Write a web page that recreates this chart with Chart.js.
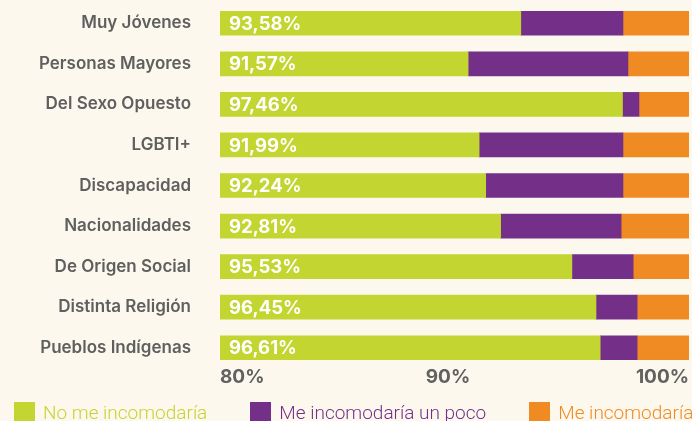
<!DOCTYPE html>
<html>
<head>
<meta charset="utf-8">
<script src="https://cdn.jsdelivr.net/npm/chart.js@4"></script>
<style>
  body { margin: 0; background: #fdf8ee; }
  #wrap { position: relative; width: 692px; height: 421px; overflow: hidden; }
  #leyenda { position: absolute; left: 14px; top: 402px; display: flex; gap: 43px;
    font-family: Roboto, sans-serif; font-weight: 300; font-size: 19px; line-height: 21px; white-space: nowrap; }
  #leyenda .item { display: flex; align-items: center; }
  #leyenda .caja { width: 21px; height: 21px; margin-right: 8px; }
</style>
</head>
<body>
<div id="wrap">
  <canvas id="myChart" width="692" height="421"></canvas>
  <div id="leyenda"></div>
</div>
<script>
const categorias = ['Muy Jóvenes', 'Personas Mayores', 'Del Sexo Opuesto', 'LGBTI+', 'Discapacidad',
  'Nacionalidades', 'De Origen Social', 'Distinta Religión', 'Pueblos Indígenas'];
const noMeIncomodaria = [93.58, 91.57, 97.46, 91.99, 92.24, 92.81, 95.53, 96.45, 96.61];
const meIncomodariaUnPoco = [3.90, 6.10, 0.63, 5.49, 5.24, 4.60, 2.34, 1.57, 1.41];
const meIncomodaria = [2.52, 2.33, 1.91, 2.52, 2.52, 2.59, 2.13, 1.98, 1.98];
const valoresTicks = [82.1, 90.8, 100];
const etiquetasTicks = ['80%', '90%', '100%'];

const VERDE = '#c2d530';
const MORADO = '#743089';
const NARANJA = '#f08b23';

// etiquetas blancas dentro de la barra verde
const etiquetasVerdes = {
  id: 'etiquetasVerdes',
  afterDatasetsDraw(chart) {
    const ctx = chart.ctx;
    const meta = chart.getDatasetMeta(0);
    ctx.save();
    ctx.fillStyle = '#ffffff';
    ctx.font = 'bold 18.5px Inter';
    ctx.textAlign = 'left';
    ctx.textBaseline = 'middle';
    meta.data.forEach(function (bar, i) {
      const txt = noMeIncomodaria[i].toFixed(2).replace('.', ',') + '%';
      ctx.fillText(txt, chart.chartArea.left + 9, bar.y + 1);
    });
    ctx.restore();
  }
};

var ctx = document.getElementById('myChart').getContext('2d');
var myChart = new Chart(ctx, {
  type: 'bar',
  data: {
    labels: categorias,
    datasets: [
      { label: 'No me incomodaría', data: noMeIncomodaria, backgroundColor: VERDE, barThickness: 24 },
      { label: 'Me incomodaría un poco', data: meIncomodariaUnPoco, backgroundColor: MORADO, barThickness: 24 },
      { label: 'Me incomodaría', data: meIncomodaria, backgroundColor: NARANJA, barThickness: 24 }
    ]
  },
  options: {
    indexAxis: 'y',
    responsive: false,
    animation: false,
    devicePixelRatio: 1,
    layout: { padding: { top: 3, right: 3, bottom: 21, left: 0 } },
    plugins: {
      legend: { display: false },
      tooltip: { enabled: false }
    },
    scales: {
      x: {
        stacked: true,
        min: 82.1,
        max: 100,
        grid: { display: false, drawTicks: false },
        border: { display: false },
        afterBuildTicks: function (scale) {
          scale.ticks = valoresTicks.map(v => ({ value: v }));
        },
        afterFit: function (scale) { scale.height = 32; },
        ticks: {
          align: 'inner',
          padding: 0,
          color: '#616161',
          font: { family: 'Inter', weight: 'bold', size: 19, lineHeight: 1 },
          callback: function (value, index) { return etiquetasTicks[index]; }
        }
      },
      y: {
        stacked: true,
        grid: { display: false, drawTicks: false },
        border: { display: false },
        afterFit: function (scale) {
          scale.width = 220;
          scale.paddingTop = 0;
          scale.paddingBottom = 0;
        },
        ticks: {
          padding: 29,
          color: '#5f5f5f',
          font: { family: 'Inter', weight: 600, size: 17 }
        }
      }
    }
  },
  plugins: [etiquetasVerdes]
});

// leyenda en HTML
const leyenda = document.getElementById('leyenda');
myChart.data.datasets.forEach(function (ds) {
  const item = document.createElement('div');
  item.className = 'item';
  const caja = document.createElement('span');
  caja.className = 'caja';
  caja.style.background = ds.backgroundColor;
  const texto = document.createElement('span');
  texto.textContent = ds.label;
  texto.style.color = ds.backgroundColor;
  item.appendChild(caja);
  item.appendChild(texto);
  leyenda.appendChild(item);
});
</script>
</body>
</html>
